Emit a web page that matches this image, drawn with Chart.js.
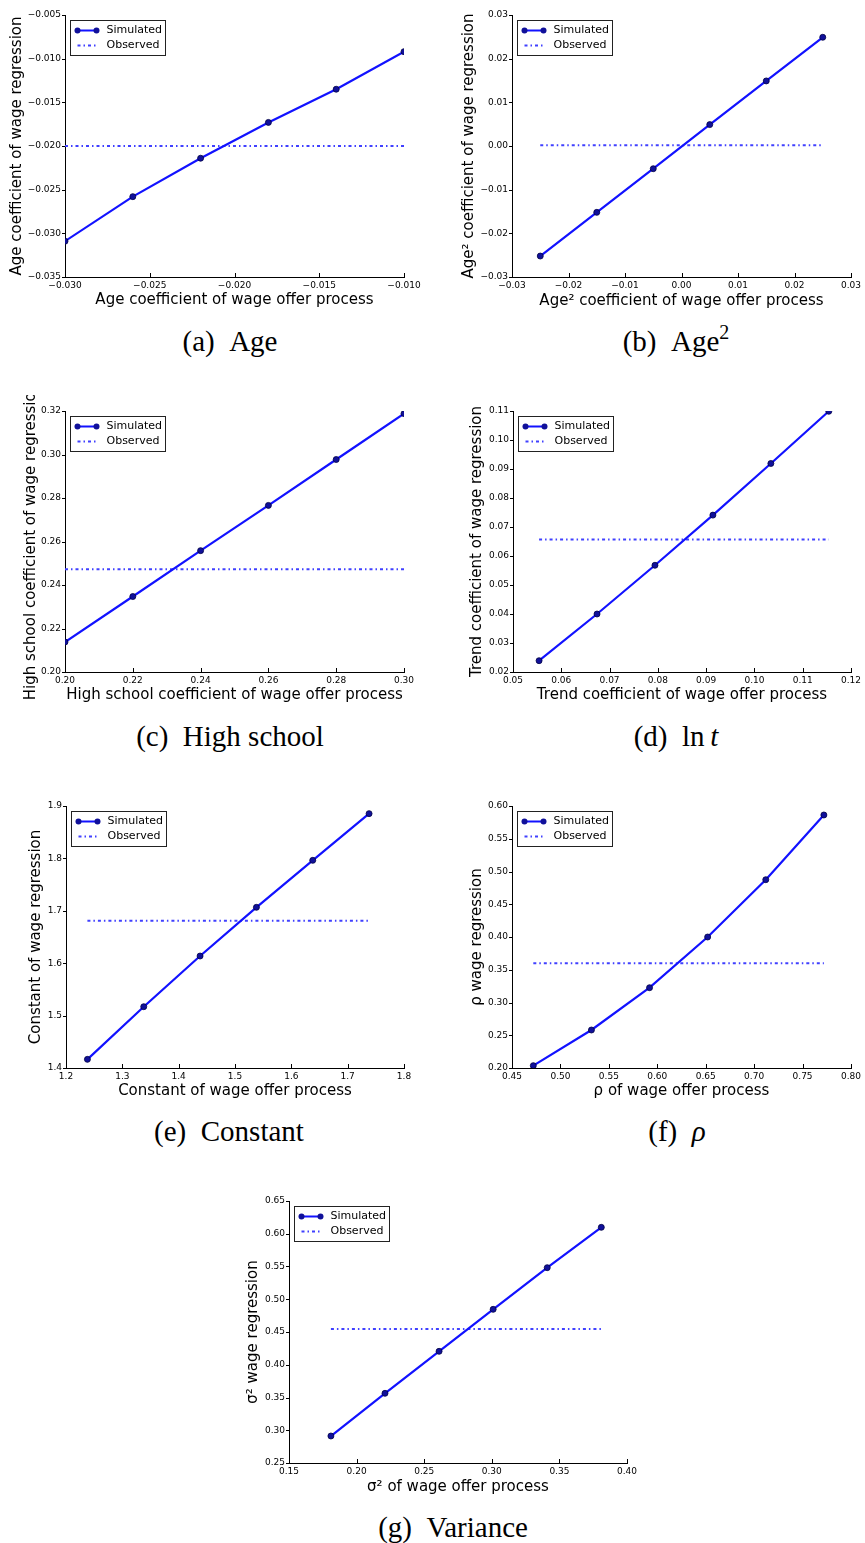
<!DOCTYPE html>
<html>
<head>
<meta charset="utf-8">
<script src="https://cdn.jsdelivr.net/npm/chart.js@4.4.1/dist/chart.umd.min.js"></script>
<style>
  body { margin: 0; background: #fff; width: 865px; height: 1543px; position: relative; overflow: hidden; }
  canvas { position: absolute; }
  .cap { position: absolute; font-family: 'Liberation Serif', serif; font-size: 29px; line-height: 29px;
         white-space: nowrap; transform: translate(-50%, -50%); color: #000; }
</style>
</head>
<body>
<canvas id="chartA" width="430" height="320" style="left:0px;top:0px"></canvas>
<canvas id="chartB" width="435" height="320" style="left:430px;top:0px"></canvas>
<canvas id="chartC" width="430" height="320" style="left:0px;top:395px"></canvas>
<canvas id="chartD" width="435" height="320" style="left:430px;top:395px"></canvas>
<canvas id="chartE" width="430" height="320" style="left:0px;top:790px"></canvas>
<canvas id="chartF" width="435" height="320" style="left:430px;top:790px"></canvas>
<canvas id="chartG" width="435" height="320" style="left:215px;top:1185px"></canvas>

<div class="cap" style="left:230px;top:341px">(a)&ensp;Age</div>
<div class="cap" style="left:676px;top:341px">(b)&ensp;Age<sup style="font-size:20px;vertical-align:12px;line-height:0">2</sup></div>
<div class="cap" style="left:230px;top:736px">(c)&ensp;High school</div>
<div class="cap" style="left:676px;top:736px">(d)&ensp;ln&thinsp;<i>t</i></div>
<div class="cap" style="left:229px;top:1131px">(e)&ensp;Constant</div>
<div class="cap" style="left:677px;top:1131px">(f)&ensp;<i>ρ</i></div>
<div class="cap" style="left:453px;top:1527px">(g)&ensp;Variance</div>

<script>
// simulated vs observed wage regression coefficients

// (a) Age
const ageX = [-0.030, -0.026, -0.022, -0.018, -0.014, -0.010]
const ageY = [-0.0309, -0.0258, -0.0214, -0.0173, -0.0135, -0.0092]
const ageObs = -0.0200
const ageXTicks = [-0.030, -0.025, -0.020, -0.015, -0.010]
const ageYTicks = [-0.035, -0.030, -0.025, -0.020, -0.015, -0.010, -0.005]

// (b) Age^2
const age2X = [-0.025, -0.015, -0.005, 0.005, 0.015, 0.025]
const age2Y = [-0.0252, -0.0152, -0.0052, 0.0049, 0.0149, 0.0249]
const age2Obs = 0.0002
const age2XTicks = [-0.03, -0.02, -0.01, 0.00, 0.01, 0.02, 0.03]
const age2YTicks = [-0.03, -0.02, -0.01, 0.00, 0.01, 0.02, 0.03]

// (c) High school
const hsX = [0.20, 0.22, 0.24, 0.26, 0.28, 0.30]
const hsY = [0.2138, 0.2347, 0.2558, 0.2766, 0.2977, 0.3188]
const hsObs = 0.2472
const hsXTicks = [0.20, 0.22, 0.24, 0.26, 0.28, 0.30]
const hsYTicks = [0.20, 0.22, 0.24, 0.26, 0.28, 0.30, 0.32]

// (d) ln t
const trendX = [0.0554, 0.0674, 0.0794, 0.0914, 0.1034, 0.1154]
const trendY = [0.0239, 0.0400, 0.0568, 0.0741, 0.0919, 0.1099]
const trendObs = 0.0657
const trendXTicks = [0.05, 0.06, 0.07, 0.08, 0.09, 0.10, 0.11, 0.12]
const trendYTicks = [0.02, 0.03, 0.04, 0.05, 0.06, 0.07, 0.08, 0.09, 0.10, 0.11]

// (e) Constant
const constX = [1.238, 1.338, 1.438, 1.538, 1.638, 1.738]
const constY = [1.4165, 1.517, 1.6137, 1.7066, 1.7963, 1.8854]
const constObs = 1.681
const constXTicks = [1.2, 1.3, 1.4, 1.5, 1.6, 1.7, 1.8]
const constYTicks = [1.4, 1.5, 1.6, 1.7, 1.8, 1.9]

// (f) rho
const rhoX = [0.472, 0.532, 0.592, 0.652, 0.712, 0.772]
const rhoY = [0.2036, 0.258, 0.3226, 0.400, 0.4875, 0.5863]
const rhoObs = 0.360
const rhoXTicks = [0.45, 0.50, 0.55, 0.60, 0.65, 0.70, 0.75, 0.80]
const rhoYTicks = [0.20, 0.25, 0.30, 0.35, 0.40, 0.45, 0.50, 0.55, 0.60]

// (g) Variance
const varX = [0.181, 0.221, 0.261, 0.301, 0.341, 0.381]
const varY = [0.2912, 0.3564, 0.4205, 0.4846, 0.5482, 0.6098]
const varObs = 0.4546
const varXTicks = [0.15, 0.20, 0.25, 0.30, 0.35, 0.40]
const varYTicks = [0.25, 0.30, 0.35, 0.40, 0.45, 0.50, 0.55, 0.60, 0.65]

const legendLabels = ['Simulated', 'Observed']

const FONT = "'DejaVu Sans', sans-serif"
const lineBlue = '#1212ff'
const markerBlue = '#10109a'
const obsBlue = '#4040ff'
const obsDash = [3, 3, 1.5, 3]

function fmt (v, dec) {
  let s = Math.abs(v).toFixed(dec)
  if (v < -1e-12) s = '\u2212' + s
  return s
}

// axis titles, inward ticks and boxed legend
const decor = {
  id: 'decor',
  afterDraw (chart, args, o) {
    const ctx = chart.ctx
    const a = chart.chartArea
    const xs = chart.scales.x
    const ys = chart.scales.y
    ctx.save()
    ctx.strokeStyle = '#000'
    ctx.lineWidth = 1
    ctx.beginPath()
    o.xTicks.forEach(v => {
      const px = Math.round(xs.getPixelForValue(v)) + 0.5
      ctx.moveTo(px, a.bottom)
      ctx.lineTo(px, a.bottom - 4)
    })
    o.yTicks.forEach(v => {
      const py = Math.round(ys.getPixelForValue(v)) + 0.5
      ctx.moveTo(a.left - 3, py)
      ctx.lineTo(a.left, py)
    })
    ctx.stroke()

    // titles
    ctx.fillStyle = '#000'
    ctx.font = '15px ' + FONT
    ctx.textAlign = 'center'
    ctx.textBaseline = 'middle'
    ctx.fillText(o.xTitle, (a.left + a.right) / 2, a.bottom + o.xTitleOff)
    ctx.save()
    ctx.translate(o.yTitleX, (a.top + a.bottom) / 2)
    ctx.rotate(-Math.PI / 2)
    ctx.fillText(o.yTitle, 0, 0)
    ctx.restore()

    // legend box
    const lx = Math.round(a.left) + 5.5
    const ly = Math.round(a.top) + 5.5
    ctx.fillStyle = '#fff'
    ctx.fillRect(lx, ly, 95, 35)
    ctx.strokeStyle = '#222'
    ctx.strokeRect(lx, ly, 95, 35)
    // simulated sample
    ctx.strokeStyle = lineBlue
    ctx.lineWidth = 2
    ctx.beginPath()
    ctx.moveTo(lx + 7, ly + 10)
    ctx.lineTo(lx + 26, ly + 10)
    ctx.stroke()
    ctx.fillStyle = markerBlue
    ;[lx + 7, lx + 26].forEach(px => {
      ctx.beginPath()
      ctx.arc(px, ly + 10, 3, 0, Math.PI * 2)
      ctx.fill()
    })
    // observed sample
    ctx.strokeStyle = obsBlue
    ctx.setLineDash(obsDash)
    ctx.beginPath()
    ctx.moveTo(lx + 7, ly + 25)
    ctx.lineTo(lx + 27, ly + 25)
    ctx.stroke()
    ctx.setLineDash([])
    ctx.fillStyle = '#000'
    ctx.font = '11px ' + FONT
    ctx.textAlign = 'left'
    ctx.fillText(legendLabels[0], lx + 36, ly + 10)
    ctx.fillText(legendLabels[1], lx + 36, ly + 25)
    ctx.restore()
  }
}

function panel (id, p) {
  const config = {
    type: 'line',
    data: {
      datasets: [
        {
          label: legendLabels[0],
          data: p.x.map((x, i) => ({ x: x, y: p.y[i] })),
          borderColor: lineBlue,
          borderWidth: 2.2,
          pointRadius: 3,
          pointBackgroundColor: markerBlue,
          pointBorderColor: '#000044',
          pointBorderWidth: 0.8,
          tension: 0
        },
        {
          label: legendLabels[1],
          data: [{ x: p.x[0], y: p.obs }, { x: p.x[p.x.length - 1], y: p.obs }],
          borderColor: obsBlue,
          borderWidth: 2,
          borderDash: obsDash,
          pointRadius: 0,
          tension: 0
        }
      ]
    },
    options: {
      responsive: false,
      animation: false,
      events: [],
      layout: { padding: { top: p.padTop, right: p.padRight, left: 0, bottom: 0 } },
      plugins: {
        legend: { display: false },
        tooltip: { enabled: false },
        decor: {
          xTicks: p.xTicks, yTicks: p.yTicks,
          xTitle: p.xTitle, yTitle: p.yTitle,
          xTitleOff: p.xTitleOff, yTitleX: p.yTitleX
        }
      },
      scales: {
        x: {
          type: 'linear',
          min: p.xTicks[0],
          max: p.xTicks[p.xTicks.length - 1],
          afterBuildTicks: s => { s.ticks = p.xTicks.map(v => ({ value: v })) },
          afterFit: s => { s.height = p.xH },
          grid: { display: false, drawTicks: false },
          border: { display: true, color: '#000', width: 1 },
          ticks: {
            font: { family: FONT, size: 9 }, color: '#000', padding: 3,
            maxRotation: 0, autoSkip: false,
            callback: v => fmt(v, p.xDec)
          }
        },
        y: {
          type: 'linear',
          min: p.yTicks[0],
          max: p.yTicks[p.yTicks.length - 1],
          afterBuildTicks: s => { s.ticks = p.yTicks.map(v => ({ value: v })) },
          afterFit: s => { s.width = p.yW },
          grid: { display: false, drawTicks: false },
          border: { display: true, color: '#000', width: 1 },
          ticks: {
            font: { family: FONT, size: 9 }, color: '#000', padding: 4,
            autoSkip: false,
            callback: v => fmt(v, p.yDec)
          }
        }
      }
    },
    plugins: [decor]
  }
  return new Chart(document.getElementById(id), config)
}

panel('chartA', {
  x: ageX, y: ageY, obs: ageObs, xTicks: ageXTicks, yTicks: ageYTicks, xDec: 3, yDec: 3,
  xTitle: 'Age coefficient of wage offer process', yTitle: 'Age coefficient of wage regression',
  yW: 65, xH: 43, padTop: 15, padRight: 26, yTitleX: 17, xTitleOff: 23
})
panel('chartB', {
  x: age2X, y: age2Y, obs: age2Obs, xTicks: age2XTicks, yTicks: age2YTicks, xDec: 2, yDec: 2,
  xTitle: 'Age\u00b2 coefficient of wage offer process', yTitle: 'Age\u00b2 coefficient of wage regression',
  yW: 82, xH: 43, padTop: 15, padRight: 14, yTitleX: 39, xTitleOff: 24
})
panel('chartC', {
  x: hsX, y: hsY, obs: hsObs, xTicks: hsXTicks, yTicks: hsYTicks, xDec: 2, yDec: 2,
  xTitle: 'High school coefficient of wage offer process', yTitle: 'High school coefficient of wage regression',
  yW: 65, xH: 43, padTop: 16, padRight: 26, yTitleX: 31, xTitleOff: 23
})
panel('chartD', {
  x: trendX, y: trendY, obs: trendObs, xTicks: trendXTicks, yTicks: trendYTicks, xDec: 2, yDec: 2,
  xTitle: 'Trend coefficient of wage offer process', yTitle: 'Trend coefficient of wage regression',
  yW: 83, xH: 43, padTop: 16, padRight: 14, yTitleX: 47, xTitleOff: 23
})
panel('chartE', {
  x: constX, y: constY, obs: constObs, xTicks: constXTicks, yTicks: constYTicks, xDec: 1, yDec: 1,
  xTitle: 'Constant of wage offer process', yTitle: 'Constant of wage regression',
  yW: 66, xH: 42, padTop: 16, padRight: 26, yTitleX: 36, xTitleOff: 23
})
panel('chartF', {
  x: rhoX, y: rhoY, obs: rhoObs, xTicks: rhoXTicks, yTicks: rhoYTicks, xDec: 2, yDec: 2,
  xTitle: '\u03c1 of wage offer process', yTitle: '\u03c1 wage regression',
  yW: 82, xH: 42, padTop: 16, padRight: 14, yTitleX: 47, xTitleOff: 23
})
panel('chartG', {
  x: varX, y: varY, obs: varObs, xTicks: varXTicks, yTicks: varYTicks, xDec: 2, yDec: 2,
  xTitle: '\u03c3\u00b2 of wage offer process', yTitle: '\u03c3\u00b2 wage regression',
  yW: 74, xH: 42, padTop: 16, padRight: 23, yTitleX: 38, xTitleOff: 24
})
</script>
</body>
</html>
